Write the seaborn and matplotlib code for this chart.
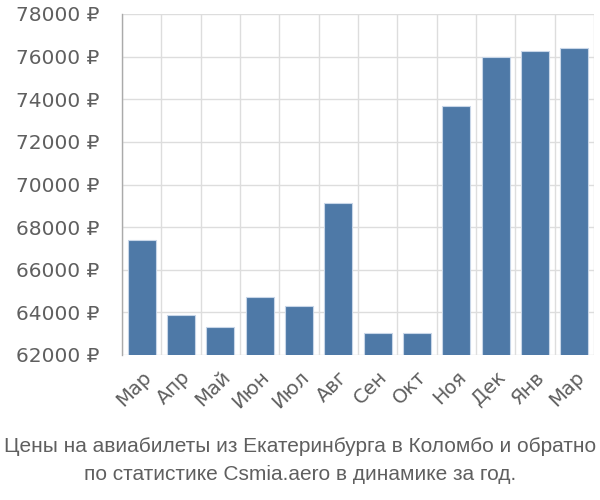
import matplotlib
matplotlib.use("Agg")
import matplotlib.pyplot as plt
import seaborn as sns
import pandas as pd
import numpy as np
from matplotlib.ticker import FixedLocator

months = ["Мар", "Апр", "Май", "Июн", "Июл", "Авг", "Сен", "Окт", "Ноя", "Дек", "Янв", "Мар"]
prices = [67400, 63860, 63310, 64730, 64310, 69110, 63020, 63020, 73700, 76000, 76270, 76410]
yticks = list(range(62000, 78001, 2000))
title_lines = ["Цены на авиабилеты из Екатеринбурга в Коломбо и обратно",
               "по статистике Csmia.aero в динамике за год."]

sns.set_style("white")
plt.rcParams['font.family'] = ['DejaVu Sans']

df = pd.DataFrame({"pos": [str(i) for i in range(len(months))], "price": prices})

fig = plt.figure(figsize=(6, 5), dpi=100)
ax = fig.add_axes([122/600, 1-355/500, (594-122)/600, (355-14)/500])

sns.barplot(data=df, x="pos", y="price", color="#4e79a7", saturation=1,
            width=0.72, edgecolor="#c8d6e8", linewidth=0.8, ax=ax, zorder=3)

tick_color = "#5f5f5f"
ax.set_ylim(62000, 78000)
ax.set_xlim(-0.5, len(months) - 0.5)
ax.set_yticks(yticks)
ax.set_yticklabels([f"{v} ₽" for v in yticks], fontsize=14.5, color=tick_color)
ax.set_xticks(range(len(months)))
ax.set_xticklabels(months, rotation=45, ha="right", rotation_mode="anchor",
                   fontsize=14, color=tick_color)
ax.xaxis.set_minor_locator(FixedLocator(np.arange(-0.5, len(months), 1)))
ax.tick_params(axis="x", which="major", length=0, pad=9)
ax.tick_params(axis="x", which="minor", length=16, color="#dddddd", width=1)
ax.tick_params(axis="y", which="major", length=15, color="#dddddd", width=1, pad=1)
ax.grid(True, axis="y", which="major", color="#dddddd", linewidth=1, zorder=0)
ax.grid(True, axis="x", which="minor", color="#dddddd", linewidth=1, zorder=0)
ax.set_xlabel("")
ax.set_ylabel("")
for s in ["top", "right", "bottom"]:
    ax.spines[s].set_visible(False)
ax.spines["left"].set_color("#aaaaaa")
ax.spines["left"].set_linewidth(1)

fam = ["Liberation Sans", "DejaVu Sans"]
t1 = fig.text(0.5, 1-447/500, title_lines[0], ha="center", va="center", fontsize=14,
              color=tick_color, family=fam)
t2 = fig.text(0.5, 1-474/500, title_lines[1], ha="center", va="center", fontsize=14,
              color=tick_color, family=fam)

# fit the first title line to the reference width (px); same size for both lines
fig.canvas.draw()
r = fig.canvas.get_renderer()
w = t1.get_window_extent(r).width
size = 14 * 594 / w
t1.set_fontsize(size)
t2.set_fontsize(size)

fig.savefig("out.png", dpi=100)
